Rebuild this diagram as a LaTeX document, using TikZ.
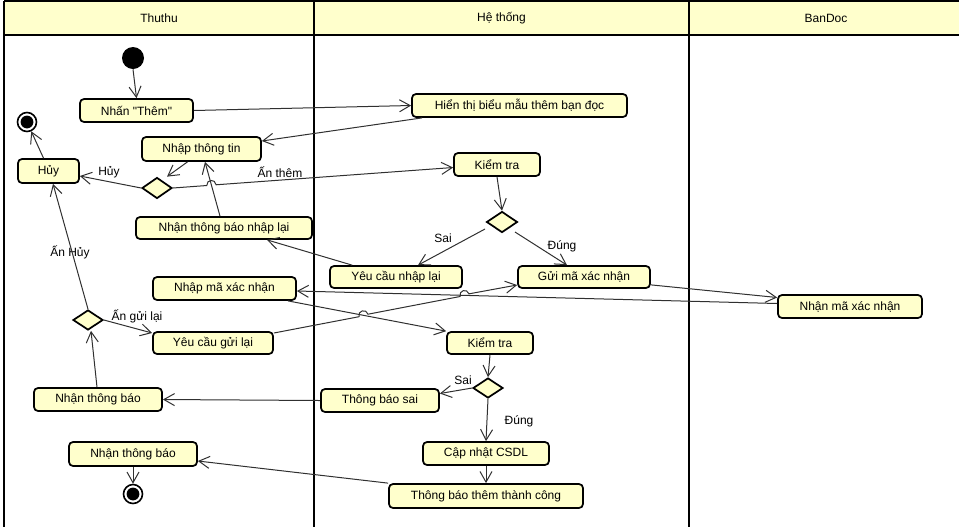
\documentclass[tikz,border=0pt]{standalone}
\usepackage{fontspec}
\setmainfont{Liberation Sans}[Ligatures=TeXOff]
\usetikzlibrary{shapes.geometric,arrows.meta,calc,intersections}
\definecolor{actfill}{HTML}{FFFFCC}
\definecolor{wire}{HTML}{303030}

\begin{document}
\begin{tikzpicture}[x=0.75pt,y=-0.75pt,
  every node/.style={font=\fontsize{9}{11}\selectfont},
  act/.style={rectangle, rounded corners=3pt, draw=black, line width=1.3pt, fill=actfill, inner sep=0pt},
  bsize/.style 2 args={minimum width=#1*0.75pt, minimum height=#2*0.75pt},
  choice/.style={diamond, draw=black, line width=1.3pt, fill=actfill, inner sep=0pt,
    minimum width=30*0.75pt, minimum height=21*0.75pt},
  startnode/.style={circle, fill=black, inner sep=0pt, minimum size=22*0.75pt},
  endnode/.style={circle, draw=black, line width=1.2pt, fill=white, inner sep=0pt, minimum size=19*0.75pt,
    path picture={\fill[black] (path picture bounding box.center) circle (4.8pt);}},
  conn/.style={draw=wire, line width=0.75pt, -{Straight Barb[length=8pt,width=9pt]}},
  lbl/.style={inner sep=0pt},
  lane/.style={draw=black, line width=1.5pt}
]
\useasboundingbox (0,0) rectangle (959,526);

% swimlanes
\begin{scope}
  \clip (0,0) rectangle (959,526);
  \fill[actfill] (4,1) rectangle (970,35);
  \draw[lane] (4,1) -- (970,1);
  \draw[lane] (4,35) -- (970,35);
  \draw[lane] (4,1) -- (4,530);
  \draw[lane] (314,1) -- (314,530);
  \draw[lane] (689,1) -- (689,530);
\end{scope}
\node (hThuthu) at (159,18) {Thuthu};
\node (hHethong) at (501.5,18) {Hệ thống};
\node (hBanDoc) at (826,18) {BanDoc};

% Thuthu lane
\node[startnode] (start) at (133,58) {};
\node[act, bsize={113}{23}] (them) at (136.5,110.5) {Nhấn "Thêm"};
\node[endnode] (fin1) at (27,122) {};
\node[act, bsize={119}{24}] (nhapTT) at (201.5,149) {Nhập thông tin};
\node[act, bsize={61}{24}] (huy) at (48.5,171) {Hủy};
\node[choice] (d1) at (157,188) {};
\node[act, bsize={176}{22}] (nhanTBNL) at (224,228) {Nhận thông báo nhập lại};
\node[act, bsize={143}{23}] (nhapma) at (224.5,288.5) {Nhập mã xác nhận};
\node[choice, minimum height=20*0.75pt] (d3) at (88,320) {};
\node[act, bsize={120}{22}] (ycgl) at (213,343) {Yêu cầu gửi lại};
\node[act, bsize={128}{23}] (ntb1) at (98,399.5) {Nhận thông báo};
\node[act, bsize={128}{24}] (ntb2) at (133,454) {Nhận thông báo};
\node[endnode] (fin2) at (133,494) {};

% He thong lane
\node[act, bsize={215}{23}] (hienthi) at (519.5,105.5) {Hiển thị biểu mẫu thêm bạn đọc};
\node[act, bsize={86}{23}] (kt1) at (497,164.5) {Kiểm tra};
\node[choice, minimum width=31*0.75pt] (d2) at (502,222) {};
\node[act, bsize={132}{22}] (ycnl) at (396,277) {Yêu cầu nhập lại};
\node[act, bsize={132}{22}] (guima) at (584,277) {Gửi mã xác nhận};
\node[act, bsize={86}{22}] (kt2) at (490,343) {Kiểm tra};
\node[choice, minimum height=20*0.75pt] (d4) at (488,388) {};
\node[act, bsize={118}{23}] (tbsai) at (380,400.5) {Thông báo sai};
\node[act, bsize={126}{23}] (capnhat) at (486,453.5) {Cập nhật CSDL};
\node[act, bsize={194}{24}] (tbtc) at (486,496) {Thông báo thêm thành công};

% BanDoc lane
\node[act, bsize={144}{23}] (nhanma) at (850,306.5) {Nhận mã xác nhận};

% guard labels
\node[lbl] (gHuy) at (109,172) {Hủy};
\node[lbl] (gAnThem) at (280,172) {Ấn thêm};
\node[lbl] (gSai1) at (443,238) {Sai};
\node[lbl] (gDung1) at (562,246) {Đúng};
\node[lbl] (gAnHuy) at (70,252) {Ấn Hủy};
\node[lbl] (gGuiLai) at (137,316) {Ấn gửi lại};
\node[lbl] (gSai2) at (463,380) {Sai};
\node[lbl] (gDung2) at (519,421) {Đúng};

% simple flows
\draw[conn] (start.south) -- (them.north);
\draw[conn] (them.east) -- (hienthi.west);
\draw[conn] ($(hienthi.south west)+(11,0)$) -- ($(nhapTT.east)+(0,-8)$);
\draw[conn] ($(nhapTT.south)+(-14,0)$) -- ($(d1.north)+(10,0)$);
\draw[conn] (d1.west) -- ($(huy.east)+(0,5)$);
\draw[conn] ($(huy.north)+(-5,0)$) -- (fin1);
\draw[conn] ($(nhanTBNL.north)+(-4,0)$) -- ($(nhapTT.south)+(3.5,0)$);
\draw[conn] (kt1.south) -- (d2.north);
\draw[conn] ($(d2.center)+(-17,7)$) -- ($(ycnl.north)+(22,0)$);
\draw[conn] ($(d2.center)+(13,10)$) -- ($(guima.north)+(-17,0)$);
\draw[conn] ($(ycnl.north west)+(23,0)$) -- ($(nhanTBNL.south)+(43,0)$);
\draw[conn] ($(guima.south east)+(0,-4)$) -- ($(nhanma.west)+(0,-9)$);
\draw[conn] ($(nhanma.west)+(0,-3)$) -- ($(nhapma.east)+(0,2.5)$);
\draw[conn] ($(nhapma.south east)+(-9,0)$) -- (kt2.north west);
\draw[conn] (d3.north) -- ($(huy.south)+(4.5,0)$);
\draw[conn] (d3.east) -- ($(ycgl.west)+(0,-10)$);
\draw[conn] ($(ntb1.north)+(-1,0)$) -- ($(d3.south)+(3,0)$);
\draw[conn] (kt2.south) -- (d4.north);
\draw[conn] (d4.west) -- ($(tbsai.east)+(0,-7)$);
\draw[conn] (d4.south) -- (capnhat.north);
\draw[conn] (tbsai.west) -- (ntb1.east);
\draw[conn] (capnhat.south) -- (tbtc.north);
\draw[conn] (tbtc.north west) -- ($(ntb2.east)+(0,7)$);
\draw[conn] (ntb2.south) -- (fin2);

% crossings that get a line hop
\path[name path=pNL] ($(nhanTBNL.north)+(-4,0)$) -- ($(nhapTT.south)+(3.5,0)$);
\path[name path=pThem] (d1.east) -- ($(kt1.west)+(0,3)$);
\path[name path=pKT] ($(nhapma.south east)+(-9,0)$) -- (kt2.north west);
\path[name path=pMa] ($(nhanma.west)+(0,-3)$) -- ($(nhapma.east)+(0,2.5)$);
\path[name path=pGui] ($(ycgl.east)+(0,-10)$) -- ($(guima.west)+(0,8)$);
\path[name intersections={of=pThem and pNL, by=x1}];
\path[name intersections={of=pGui and pKT, by=x2}];
\path[name intersections={of=pGui and pMa, by=x3}];

\coordinate (x1a) at ($(x1)!3.5pt!(d1.east)$);
\coordinate (x1b) at ($(x1)!3.5pt!(kt1.west)$);
\draw[conn] (d1.east) -- (x1a)
  .. controls ($(x1a)!4.7pt!90:(x1)$) and ($(x1b)!4.7pt!-90:(x1)$) .. (x1b)
  -- ($(kt1.west)+(0,3)$);

\coordinate (x2a) at ($(x2)!3.5pt!(ycgl.east)$);
\coordinate (x2b) at ($(x2)!3.5pt!(guima.west)$);
\coordinate (x3a) at ($(x3)!3.5pt!(ycgl.east)$);
\coordinate (x3b) at ($(x3)!3.5pt!(guima.west)$);
\draw[conn] ($(ycgl.east)+(0,-10)$) -- (x2a)
  .. controls ($(x2a)!4.7pt!90:(x2)$) and ($(x2b)!4.7pt!-90:(x2)$) .. (x2b)
  -- (x3a)
  .. controls ($(x3a)!4.7pt!90:(x3)$) and ($(x3b)!4.7pt!-90:(x3)$) .. (x3b)
  -- ($(guima.west)+(0,8)$);
\end{tikzpicture}
\end{document}
